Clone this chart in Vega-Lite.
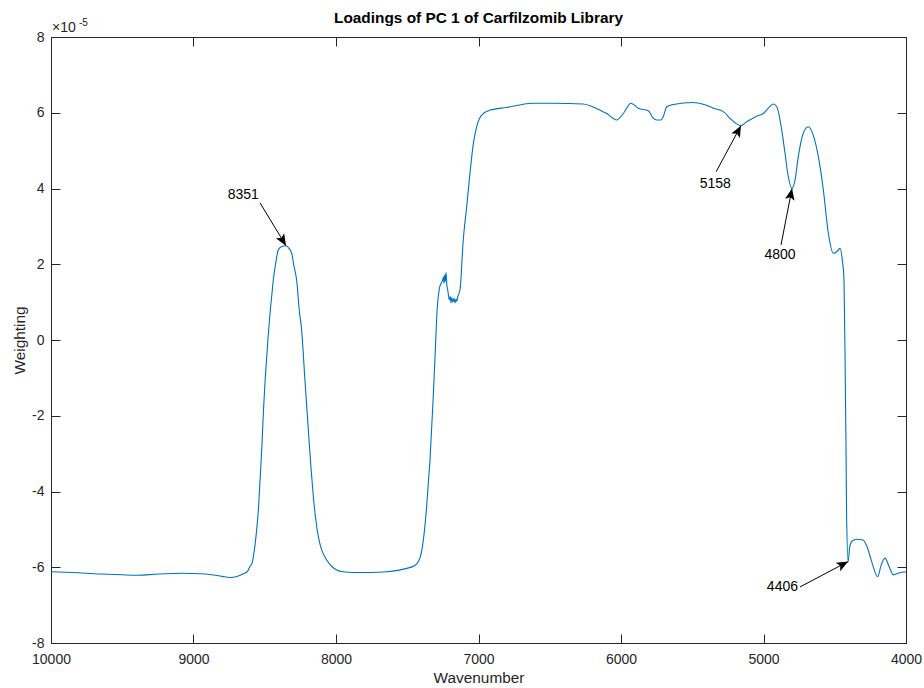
{
  "$schema": "https://vega.github.io/schema/vega-lite/v6.json",
  "width": 855,
  "height": 606,
  "autosize": "none",
  "padding": {"left": 51, "top": 37, "right": 18, "bottom": 45},
  "background": "white",
  "config": {"view": {"stroke": null}, "font": "Liberation Sans"},
  "title": {"text": "Loadings of PC 1 of Carfilzomib Library", "fontSize": 15.4, "fontWeight": "bold", "color": "#000000", "font": "Liberation Sans", "anchor": "middle", "baseline": "alphabetic", "offset": -20},
  "datasets": {
    "curve": [
      {"wavenumber": 10000, "weighting": -6.12e-5},
      {"wavenumber": 9850, "weighting": -6.14e-5},
      {"wavenumber": 9656, "weighting": -6.18e-5},
      {"wavenumber": 9500, "weighting": -6.20e-5},
      {"wavenumber": 9396, "weighting": -6.21e-5},
      {"wavenumber": 9250, "weighting": -6.18e-5},
      {"wavenumber": 9074, "weighting": -6.16e-5},
      {"wavenumber": 8950, "weighting": -6.17e-5},
      {"wavenumber": 8884, "weighting": -6.19e-5},
      {"wavenumber": 8800, "weighting": -6.24e-5},
      {"wavenumber": 8744, "weighting": -6.27e-5},
      {"wavenumber": 8700, "weighting": -6.25e-5},
      {"wavenumber": 8653, "weighting": -6.18e-5},
      {"wavenumber": 8620, "weighting": -6.10e-5},
      {"wavenumber": 8604, "weighting": -5.98e-5},
      {"wavenumber": 8589, "weighting": -5.89e-5},
      {"wavenumber": 8575, "weighting": -5.6e-5},
      {"wavenumber": 8557, "weighting": -5.02e-5},
      {"wavenumber": 8545, "weighting": -4.5e-5},
      {"wavenumber": 8533, "weighting": -3.70e-5},
      {"wavenumber": 8520, "weighting": -2.8e-5},
      {"wavenumber": 8510, "weighting": -1.94e-5},
      {"wavenumber": 8498, "weighting": -1.1e-5},
      {"wavenumber": 8486, "weighting": -0.44e-5},
      {"wavenumber": 8475, "weighting": 0.15e-5},
      {"wavenumber": 8463, "weighting": 0.70e-5},
      {"wavenumber": 8450, "weighting": 1.2e-5},
      {"wavenumber": 8440, "weighting": 1.58e-5},
      {"wavenumber": 8420, "weighting": 2.1e-5},
      {"wavenumber": 8405, "weighting": 2.38e-5},
      {"wavenumber": 8380, "weighting": 2.47e-5},
      {"wavenumber": 8351, "weighting": 2.49e-5},
      {"wavenumber": 8330, "weighting": 2.42e-5},
      {"wavenumber": 8311, "weighting": 2.29e-5},
      {"wavenumber": 8295, "weighting": 1.95e-5},
      {"wavenumber": 8276, "weighting": 1.58e-5},
      {"wavenumber": 8258, "weighting": 0.8e-5},
      {"wavenumber": 8241, "weighting": 0.26e-5},
      {"wavenumber": 8218, "weighting": -1.06e-5},
      {"wavenumber": 8194, "weighting": -2.38e-5},
      {"wavenumber": 8175, "weighting": -3.4e-5},
      {"wavenumber": 8159, "weighting": -4.14e-5},
      {"wavenumber": 8140, "weighting": -4.8e-5},
      {"wavenumber": 8124, "weighting": -5.19e-5},
      {"wavenumber": 8100, "weighting": -5.55e-5},
      {"wavenumber": 8065, "weighting": -5.81e-5},
      {"wavenumber": 8030, "weighting": -5.98e-5},
      {"wavenumber": 7995, "weighting": -6.07e-5},
      {"wavenumber": 7950, "weighting": -6.12e-5},
      {"wavenumber": 7879, "weighting": -6.14e-5},
      {"wavenumber": 7761, "weighting": -6.14e-5},
      {"wavenumber": 7644, "weighting": -6.12e-5},
      {"wavenumber": 7504, "weighting": -6.03e-5},
      {"wavenumber": 7450, "weighting": -5.96e-5},
      {"wavenumber": 7422, "weighting": -5.85e-5},
      {"wavenumber": 7400, "weighting": -5.6e-5},
      {"wavenumber": 7387, "weighting": -5.28e-5},
      {"wavenumber": 7364, "weighting": -4.40e-5},
      {"wavenumber": 7345, "weighting": -3.4e-5},
      {"wavenumber": 7340, "weighting": -3.17e-5},
      {"wavenumber": 7338, "weighting": -3.0e-5},
      {"wavenumber": 7321, "weighting": -1.76e-5},
      {"wavenumber": 7305, "weighting": -0.44e-5},
      {"wavenumber": 7289, "weighting": 0.88e-5},
      {"wavenumber": 7275, "weighting": 1.35e-5},
      {"wavenumber": 7262, "weighting": 1.5e-5},
      {"wavenumber": 7250, "weighting": 1.6e-5},
      {"wavenumber": 7247, "weighting": 1.67e-5},
      {"wavenumber": 7242, "weighting": 1.5e-5},
      {"wavenumber": 7237, "weighting": 1.72e-5},
      {"wavenumber": 7233, "weighting": 1.55e-5},
      {"wavenumber": 7228, "weighting": 1.78e-5},
      {"wavenumber": 7222, "weighting": 1.45e-5},
      {"wavenumber": 7215, "weighting": 1.3e-5},
      {"wavenumber": 7205, "weighting": 1.06e-5},
      {"wavenumber": 7198, "weighting": 1.15e-5},
      {"wavenumber": 7193, "weighting": 0.98e-5},
      {"wavenumber": 7187, "weighting": 1.12e-5},
      {"wavenumber": 7180, "weighting": 1.0e-5},
      {"wavenumber": 7172, "weighting": 1.1e-5},
      {"wavenumber": 7165, "weighting": 0.98e-5},
      {"wavenumber": 7158, "weighting": 1.08e-5},
      {"wavenumber": 7153, "weighting": 1.02e-5},
      {"wavenumber": 7145, "weighting": 1.15e-5},
      {"wavenumber": 7130, "weighting": 1.32e-5},
      {"wavenumber": 7107, "weighting": 2.64e-5},
      {"wavenumber": 7083, "weighting": 3.52e-5},
      {"wavenumber": 7060, "weighting": 4.40e-5},
      {"wavenumber": 7036, "weighting": 5.19e-5},
      {"wavenumber": 7013, "weighting": 5.63e-5},
      {"wavenumber": 6978, "weighting": 5.94e-5},
      {"wavenumber": 6919, "weighting": 6.07e-5},
      {"wavenumber": 6802, "weighting": 6.14e-5},
      {"wavenumber": 6615, "weighting": 6.25e-5},
      {"wavenumber": 6475, "weighting": 6.25e-5},
      {"wavenumber": 6265, "weighting": 6.23e-5},
      {"wavenumber": 6200, "weighting": 6.16e-5},
      {"wavenumber": 6147, "weighting": 6.07e-5},
      {"wavenumber": 6100, "weighting": 5.98e-5},
      {"wavenumber": 6030, "weighting": 5.81e-5},
      {"wavenumber": 5984, "weighting": 5.98e-5},
      {"wavenumber": 5930, "weighting": 6.25e-5},
      {"wavenumber": 5879, "weighting": 6.12e-5},
      {"wavenumber": 5808, "weighting": 6.05e-5},
      {"wavenumber": 5773, "weighting": 5.85e-5},
      {"wavenumber": 5749, "weighting": 5.81e-5},
      {"wavenumber": 5719, "weighting": 5.81e-5},
      {"wavenumber": 5703, "weighting": 5.9e-5},
      {"wavenumber": 5679, "weighting": 6.16e-5},
      {"wavenumber": 5633, "weighting": 6.22e-5},
      {"wavenumber": 5493, "weighting": 6.27e-5},
      {"wavenumber": 5400, "weighting": 6.2e-5},
      {"wavenumber": 5352, "weighting": 6.12e-5},
      {"wavenumber": 5282, "weighting": 6.03e-5},
      {"wavenumber": 5223, "weighting": 5.81e-5},
      {"wavenumber": 5158, "weighting": 5.66e-5},
      {"wavenumber": 5118, "weighting": 5.76e-5},
      {"wavenumber": 5048, "weighting": 5.91e-5},
      {"wavenumber": 5002, "weighting": 5.98e-5},
      {"wavenumber": 4966, "weighting": 6.12e-5},
      {"wavenumber": 4931, "weighting": 6.23e-5},
      {"wavenumber": 4907, "weighting": 6.16e-5},
      {"wavenumber": 4872, "weighting": 5.54e-5},
      {"wavenumber": 4849, "weighting": 4.93e-5},
      {"wavenumber": 4826, "weighting": 4.31e-5},
      {"wavenumber": 4800, "weighting": 4.0e-5},
      {"wavenumber": 4779, "weighting": 4.22e-5},
      {"wavenumber": 4756, "weighting": 4.84e-5},
      {"wavenumber": 4721, "weighting": 5.46e-5},
      {"wavenumber": 4686, "weighting": 5.63e-5},
      {"wavenumber": 4651, "weighting": 5.41e-5},
      {"wavenumber": 4615, "weighting": 4.84e-5},
      {"wavenumber": 4580, "weighting": 3.96e-5},
      {"wavenumber": 4545, "weighting": 2.82e-5},
      {"wavenumber": 4510, "weighting": 2.29e-5},
      {"wavenumber": 4486, "weighting": 2.33e-5},
      {"wavenumber": 4463, "weighting": 2.42e-5},
      {"wavenumber": 4447, "weighting": 2.11e-5},
      {"wavenumber": 4435, "weighting": 1.58e-5},
      {"wavenumber": 4426, "weighting": -1.06e-5},
      {"wavenumber": 4421, "weighting": -2.82e-5},
      {"wavenumber": 4417, "weighting": -4.58e-5},
      {"wavenumber": 4406, "weighting": -5.85e-5},
      {"wavenumber": 4395, "weighting": -5.46e-5},
      {"wavenumber": 4381, "weighting": -5.32e-5},
      {"wavenumber": 4346, "weighting": -5.26e-5},
      {"wavenumber": 4302, "weighting": -5.28e-5},
      {"wavenumber": 4274, "weighting": -5.45e-5},
      {"wavenumber": 4241, "weighting": -5.85e-5},
      {"wavenumber": 4199, "weighting": -6.25e-5},
      {"wavenumber": 4175, "weighting": -5.95e-5},
      {"wavenumber": 4147, "weighting": -5.76e-5},
      {"wavenumber": 4119, "weighting": -5.98e-5},
      {"wavenumber": 4089, "weighting": -6.2e-5},
      {"wavenumber": 4049, "weighting": -6.15e-5},
      {"wavenumber": 4000, "weighting": -6.12e-5}
    ],
    "notes": [
      {"label": "8351", "wn": 8351, "w": 2.49e-5, "wn2": 8533, "w2": 3.62e-5, "twn": 8651, "tw": 3.83e-5},
      {"label": "5158", "wn": 5158, "w": 5.66e-5, "wn2": 5333, "w2": 4.44e-5, "twn": 5338, "tw": 4.12e-5},
      {"label": "4800", "wn": 4800, "w": 4.0e-5, "wn2": 4877, "w2": 2.51e-5, "twn": 4884, "tw": 2.25e-5},
      {"label": "4406", "wn": 4406, "w": -5.85e-5, "wn2": 4744, "w2": -6.52e-5, "twn": 4867, "tw": -6.53e-5}
    ],
    "exponent": [
      {"wn": 10000, "w": 8e-5}
    ]
  },
  "layer": [
    {
      "data": {"name": "curve"},
      "mark": {"type": "line", "color": "#0072BD", "strokeWidth": 1.1, "interpolate": "monotone"},
      "encoding": {
        "x": {
          "field": "wavenumber", "type": "quantitative",
          "scale": {"domain": [4000, 10000], "reverse": true, "nice": false, "zero": false},
          "axis": {"orient": "bottom", "values": [4000, 5000, 6000, 7000, 8000, 9000, 10000], "format": "d", "grid": false,
            "labelFontSize": 14, "labelColor": "#262626", "labelFont": "Liberation Sans", "labelFlush": false, "labelOverlap": false,
            "domainColor": "#262626", "tickColor": "#262626", "tickSize": -9, "labelPadding": 18,
            "title": "Wavenumber", "titleFontSize": 15.4, "titleFontWeight": "normal", "titleColor": "#262626", "titleFont": "Liberation Sans", "titlePadding": 4}
        },
        "y": {
          "field": "weighting", "type": "quantitative",
          "scale": {"domain": [-8e-5, 8e-5], "nice": false, "zero": false},
          "axis": {"orient": "left", "values": [-8e-5, -6e-5, -4e-5, -2e-5, 0, 2e-5, 4e-5, 6e-5, 8e-5], "labelExpr": "toString(round(datum.value*1e5))", "grid": false,
            "labelFontSize": 14, "labelColor": "#262626", "labelFont": "Liberation Sans", "labelOverlap": false,
            "domainColor": "#262626", "tickColor": "#262626", "tickSize": -9, "labelPadding": 16,
            "title": "Weighting", "titleFontSize": 15.4, "titleFontWeight": "normal", "titleColor": "#262626", "titleFont": "Liberation Sans", "titlePadding": 4}
        }
      }
    },
    {
      "data": {"name": "curve"},
      "mark": {"type": "line", "opacity": 0},
      "encoding": {
        "x": {"field": "wavenumber", "type": "quantitative",
          "axis": {"orient": "top", "values": [4000, 5000, 6000, 7000, 8000, 9000, 10000], "labels": false, "title": null, "grid": false, "domainColor": "#262626", "tickColor": "#262626", "tickSize": -9}},
        "y": {"field": "weighting", "type": "quantitative",
          "axis": {"orient": "right", "values": [-8e-5, -6e-5, -4e-5, -2e-5, 0, 2e-5, 4e-5, 6e-5, 8e-5], "labels": false, "title": null, "grid": false, "domainColor": "#262626", "tickColor": "#262626", "tickSize": -9}}
      }
    },
    {
      "data": {"name": "notes"},
      "mark": {"type": "rule", "color": "#000000", "strokeWidth": 1},
      "encoding": {
        "x": {"field": "wn2", "type": "quantitative", "axis": null},
        "y": {"field": "w2", "type": "quantitative", "axis": null},
        "x2": {"field": "wn"},
        "y2": {"field": "w"}
      }
    },
    {
      "data": {"name": "notes"},
      "transform": [{"filter": "datum.label == '8351'"}],
      "mark": {"type": "point", "shape": "M0,0L-0.42,1L0,0.78L0.42,1Z", "filled": true, "color": "#000000", "opacity": 1, "size": 529, "strokeWidth": 0, "angle": 149},
      "encoding": {
        "x": {"field": "wn", "type": "quantitative", "axis": null},
        "y": {"field": "w", "type": "quantitative", "axis": null}
      }
    },
    {
      "data": {"name": "notes"},
      "transform": [{"filter": "datum.label == '5158'"}],
      "mark": {"type": "point", "shape": "M0,0L-0.42,1L0,0.78L0.42,1Z", "filled": true, "color": "#000000", "opacity": 1, "size": 529, "strokeWidth": 0, "angle": 28},
      "encoding": {
        "x": {"field": "wn", "type": "quantitative", "axis": null},
        "y": {"field": "w", "type": "quantitative", "axis": null}
      }
    },
    {
      "data": {"name": "notes"},
      "transform": [{"filter": "datum.label == '4800'"}],
      "mark": {"type": "point", "shape": "M0,0L-0.42,1L0,0.78L0.42,1Z", "filled": true, "color": "#000000", "opacity": 1, "size": 529, "strokeWidth": 0, "angle": 11},
      "encoding": {
        "x": {"field": "wn", "type": "quantitative", "axis": null},
        "y": {"field": "w", "type": "quantitative", "axis": null}
      }
    },
    {
      "data": {"name": "notes"},
      "transform": [{"filter": "datum.label == '4406'"}],
      "mark": {"type": "point", "shape": "M0,0L-0.42,1L0,0.78L0.42,1Z", "filled": true, "color": "#000000", "opacity": 1, "size": 529, "strokeWidth": 0, "angle": 62},
      "encoding": {
        "x": {"field": "wn", "type": "quantitative", "axis": null},
        "y": {"field": "w", "type": "quantitative", "axis": null}
      }
    },
    {
      "data": {"name": "notes"},
      "mark": {"type": "text", "fontSize": 14, "font": "Liberation Sans", "color": "#000000", "align": "center", "baseline": "middle"},
      "encoding": {
        "x": {"field": "twn", "type": "quantitative", "axis": null},
        "y": {"field": "tw", "type": "quantitative", "axis": null},
        "text": {"field": "label"}
      }
    },
    {
      "data": {"name": "exponent"},
      "mark": {"type": "text", "text": "×10", "fontSize": 14, "font": "Liberation Sans", "color": "#262626", "align": "left", "baseline": "alphabetic", "dx": 1, "dy": -5},
      "encoding": {
        "x": {"field": "wn", "type": "quantitative", "axis": null},
        "y": {"field": "w", "type": "quantitative", "axis": null}
      }
    },
    {
      "data": {"name": "exponent"},
      "mark": {"type": "text", "text": "-5", "fontSize": 10, "font": "Liberation Sans", "color": "#262626", "align": "left", "baseline": "alphabetic", "dx": 28, "dy": -11},
      "encoding": {
        "x": {"field": "wn", "type": "quantitative", "axis": null},
        "y": {"field": "w", "type": "quantitative", "axis": null}
      }
    }
  ],
  "resolve": {"axis": {"x": "independent", "y": "independent"}}
}
